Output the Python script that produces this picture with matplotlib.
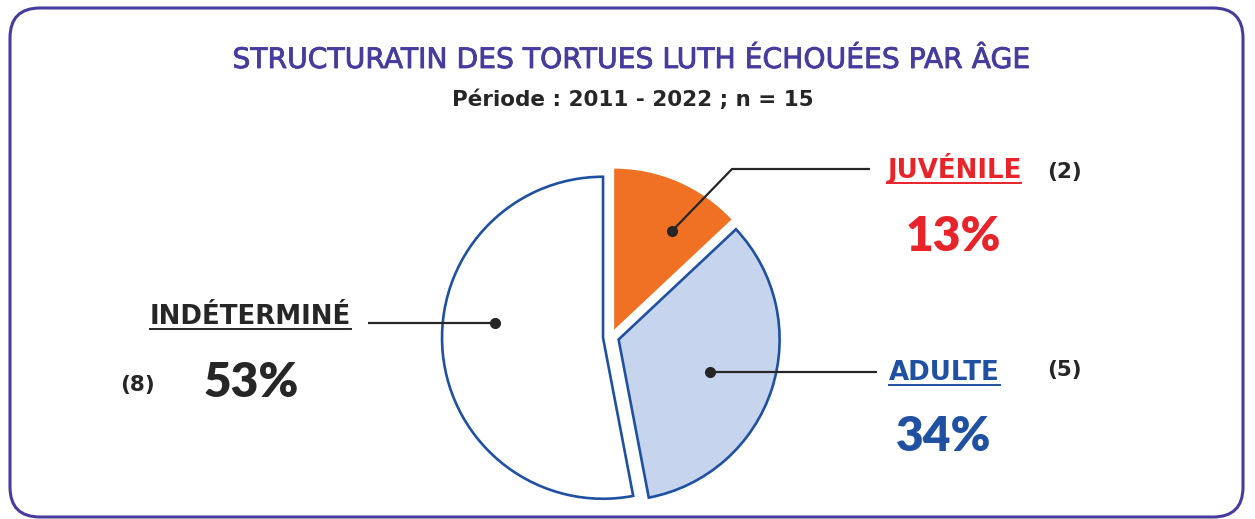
import matplotlib.pyplot as plt
import matplotlib.patheffects as pe
from matplotlib.patches import FancyBboxPatch

# Figure size in pixels, everything below is laid out in pixel units
W, H = 1255, 519

# Data
categories = ['JUVÉNILE', 'ADULTE', 'INDÉTERMINÉ']
counts = [2, 5, 8]
percents = [13, 34, 53]

title = 'STRUCTURATIN DES TORTUES LUTH ÉCHOUÉES PAR ÂGE'
subtitle = 'Période : 2011 - 2022 ; n = 15'

# Colours
PURPLE = '#463c9e'
ORANGE = '#f07124'
LIGHT_BLUE = '#c6d5ed'
EDGE_BLUE = '#1f50a2'
RED = '#e8232a'
DARK = '#262626'
LABEL_COLORS = [RED, EDGE_BLUE, DARK]

TEXT_FONT = 'DejaVu Sans'
PCT_FONT = 'Lato'

fig = plt.figure(figsize=(W / 100, H / 100), dpi=100)
ax = fig.add_axes([0, 0, 1, 1])

# image-style y (from the top) to axes y
def Y(v):
    return H - v

# Pie, clockwise from 12 o'clock
wedges, _ = ax.pie(percents, explode=[8, 8, 8], colors=[ORANGE, LIGHT_BLUE, 'white'],
                   startangle=90, counterclock=False, radius=161, center=(611, Y(337)),
                   frame=True)
wedges[0].set_linewidth(0)
for w in wedges[1:]:
    w.set_edgecolor(EDGE_BLUE)
    w.set_linewidth(1.9)

ax.set_xlim(0, W)
ax.set_ylim(0, H)
ax.set_aspect('auto')
ax.axis('off')

# Rounded frame
frame = FancyBboxPatch((10, Y(517)), W - 10 - 12, 517 - 8,
                       boxstyle='round,pad=0,rounding_size=30',
                       fill=False, edgecolor=PURPLE, linewidth=2.2, zorder=0)
ax.add_patch(frame)

# Titles (thin stroke gives the book face a medium weight)
ax.text(632, Y(68), title, ha='center', va='baseline', fontsize=20.3,
        fontfamily=TEXT_FONT, color=PURPLE,
        path_effects=[pe.withStroke(linewidth=0.6, foreground=PURPLE)])
ax.text(633, Y(106), subtitle, ha='center', va='baseline', fontsize=15.5,
        fontfamily=TEXT_FONT, fontweight='bold', color=DARK)

# Leader lines ending in dots: (dot, elbow, end) in image coords
leaders = [
    [(672, 231), (732, 169), (870, 169)],
    [(710, 372), (877, 372)],
    [(495, 323), (368, 323)],
]
for pts in leaders:
    xs = [p[0] for p in pts]
    ys = [Y(p[1]) for p in pts]
    ax.plot(xs, ys, color=DARK, lw=1.6, solid_capstyle='butt')
    ax.plot(xs[0], ys[0], 'o', color=DARK, ms=7)

# Category names (underlined), counts, percentages
name_pos = [(887, 178), (889, 380), (150, 324)]
count_pos = [(1047, 178), (1047, 376), (120, 391)]
pct_pos = [(953, 251, 'center'), (944, 451, 'center'), (204, 397, 'left')]

names = []
for i, cat in enumerate(categories):
    x, y = name_pos[i]
    t = ax.text(x, Y(y), cat, ha='left', va='baseline', fontsize=18.7,
                fontfamily=TEXT_FONT, fontweight='bold', color=LABEL_COLORS[i])
    names.append((t, y))
    cx, cy = count_pos[i]
    ax.text(cx, Y(cy), f'({counts[i]})', ha='left', va='baseline', fontsize=15.5,
            fontfamily=TEXT_FONT, fontweight='bold', color=DARK)
    px, py, ha = pct_pos[i]
    ax.text(px, Y(py), f'{percents[i]}%', ha=ha, va='baseline', fontsize=34.5,
            fontfamily=PCT_FONT, fontweight='heavy', color=LABEL_COLORS[i])

# underline the category names
fig.canvas.draw()
renderer = fig.canvas.get_renderer()
for t, y in names:
    bb = t.get_window_extent(renderer).transformed(ax.transData.inverted())
    ax.plot([bb.x0, bb.x1], [Y(y + 4.5), Y(y + 4.5)], color=t.get_color(), lw=1.4)

fig.savefig('out.png', dpi=100)
